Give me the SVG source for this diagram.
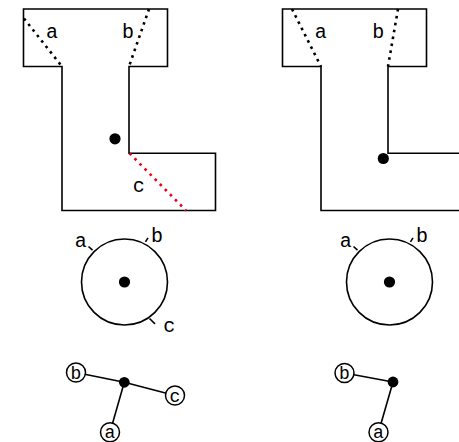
<svg xmlns="http://www.w3.org/2000/svg" width="459" height="442" viewBox="0 0 459 442">
<style>
.o{fill:none;stroke:#000;stroke-width:1.6}
.d{fill:none;stroke:#000;stroke-width:2.6;stroke-dasharray:2.6 4.4}
.r{fill:none;stroke:#e8001c;stroke-width:2.6;stroke-dasharray:2.6 4.6}
.t{font-family:"Liberation Mono",monospace;font-size:20px;text-anchor:middle;fill:#000}
.s{font-family:"Liberation Mono",monospace;font-size:18px;text-anchor:middle;fill:#000}
.n{fill:#fff;stroke:#000;stroke-width:1.5}
.e{stroke:#000;stroke-width:1.6}
</style>
<rect width="459" height="442" fill="#fff"/>
<g id="shape-left">
<path class="o" d="M23.5,9 H167.5 V66.5 H129 V153.3 H215.5 V210.5 H62 V66.5 H23.5 Z"/>
<line class="d" x1="24" y1="18.5" x2="62" y2="66.5"/>
<line class="d" x1="149" y1="9" x2="129" y2="66.5"/>
<line class="r" x1="129.5" y1="153.3" x2="186" y2="210.5"/>
<circle cx="115" cy="138.8" r="5.6"/>
<text class="t" x="52" y="37.5">a</text>
<text class="t" x="128" y="37.5">b</text>
<text class="t" x="138.7" y="191.7">c</text>
</g>
<g id="shape-right">
<path class="o" d="M480,210.5 H321 V66.5 H282.5 V9 H426.5 V66.5 H388 V153.3 H480"/>
<line class="d" x1="292" y1="9" x2="321" y2="66.5"/>
<line class="d" x1="398" y1="9" x2="388" y2="66.5"/>
<circle cx="383.3" cy="158.5" r="5.6"/>
<text class="t" x="320.7" y="37.5">a</text>
<text class="t" x="378.2" y="37.5">b</text>
</g>
<g id="circle-left">
<circle class="o" cx="124.5" cy="282" r="43"/>
<circle cx="124.5" cy="282" r="5.6"/>
<line class="o" x1="92.5" y1="250.2" x2="88.5" y2="246.5"/>
<line class="o" x1="145.5" y1="241.8" x2="148" y2="237.8"/>
<line class="o" x1="149.5" y1="318.5" x2="155" y2="323.8"/>
<text class="t" x="80.8" y="246.7">a</text>
<text class="t" x="157" y="242.3">b</text>
<text class="t" x="169.2" y="332.3">c</text>
</g>
<g id="circle-right">
<circle class="o" cx="389.5" cy="282" r="43"/>
<circle cx="389.5" cy="282" r="5.6"/>
<line class="o" x1="357.5" y1="250.2" x2="353.5" y2="246.5"/>
<line class="o" x1="410.5" y1="241.8" x2="413" y2="237.8"/>
<text class="t" x="345.8" y="246.7">a</text>
<text class="t" x="422" y="242.3">b</text>
</g>
<g id="connectors">
<line class="e" x1="124.3" y1="382.3" x2="76" y2="372.5"/>
<line class="e" x1="124.3" y1="382.3" x2="175" y2="395.5"/>
<line class="e" x1="124.3" y1="382.3" x2="110" y2="432.3"/>
<line class="e" x1="393" y1="382" x2="344.5" y2="373"/>
<line class="e" x1="393" y1="382" x2="378.5" y2="432.3"/>
</g>
<g id="graph-left">
<circle cx="124.3" cy="382.3" r="5.4"/>
<g id="node-lb"><circle class="n" cx="76" cy="372.5" r="9.5"/><text class="s" x="76" y="378.8">b</text></g>
<g id="node-lc"><circle class="n" cx="175" cy="395.5" r="9.5"/><text class="s" x="175" y="401.5">c</text></g>
<g id="node-la"><circle class="n" cx="110" cy="432.3" r="9.5"/><text class="s" x="110" y="437.5">a</text></g>
</g>
<g id="graph-right">
<circle cx="393" cy="382" r="5.4"/>
<g id="node-rb"><circle class="n" cx="344.5" cy="373" r="9.5"/><text class="s" x="344.5" y="379.3">b</text></g>
<g id="node-ra"><circle class="n" cx="378.5" cy="432.3" r="9.5"/><text class="s" x="378.5" y="437.5">a</text></g>
</g>
</svg>
